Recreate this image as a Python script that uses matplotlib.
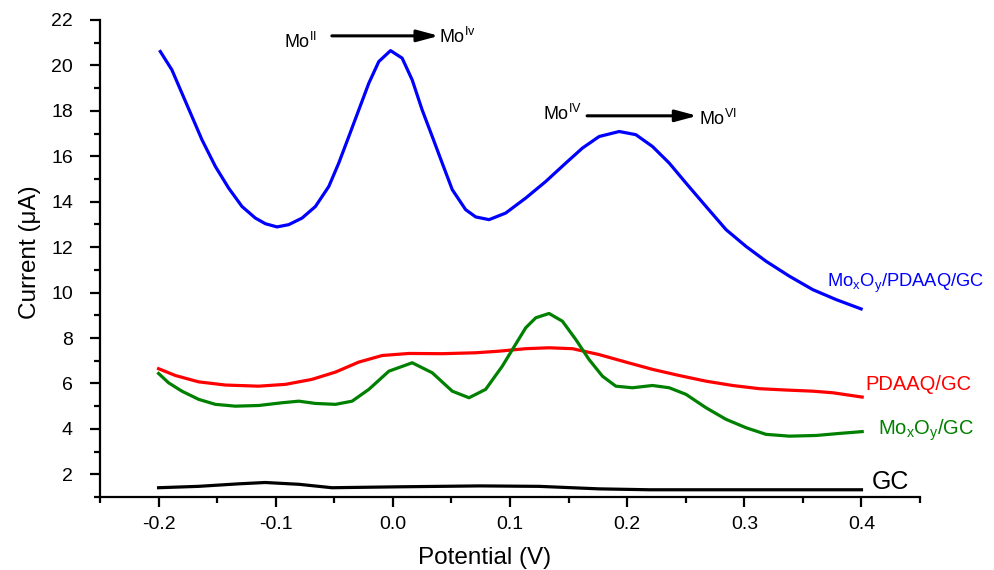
import matplotlib
matplotlib.use("Agg")
from matplotlib import pyplot as plt
from matplotlib.ticker import MultipleLocator

plt.rcParams["font.family"] = ["Liberation Sans", "DejaVu Sans"]
plt.rcParams["mathtext.fontset"] = "custom"
plt.rcParams["mathtext.rm"] = "Liberation Sans"
plt.rcParams["mathtext.it"] = "Liberation Sans"

# Mo_xO_y/PDAAQ/GC
x_blue = [-0.1985, -0.1886, -0.1801, -0.1715, -0.1630, -0.1515, -0.1402, -0.1288, -0.1174, -0.1088,
          -0.0989, -0.0889, -0.0775, -0.0661, -0.0547, -0.0462, -0.0376, -0.0291, -0.0205, -0.0120,
          -0.0020, 0.0079, 0.0165, 0.0250, 0.0336, 0.0421, 0.0507, 0.0621, 0.0707, 0.0821,
          0.0963, 0.1134, 0.1305, 0.1476, 0.1618, 0.1761, 0.1932, 0.2074, 0.2216, 0.2359,
          0.2502, 0.2673, 0.2844, 0.3015, 0.3185, 0.3385, 0.3584, 0.3784, 0.3997]
y_blue = [20.61, 19.80, 18.78, 17.75, 16.73, 15.55, 14.60, 13.79, 13.28, 13.03,
          12.89, 12.99, 13.28, 13.79, 14.67, 15.70, 16.87, 18.04, 19.22, 20.17,
          20.65, 20.32, 19.36, 18.04, 16.87, 15.70, 14.53, 13.65, 13.33, 13.21,
          13.50, 14.16, 14.89, 15.70, 16.36, 16.87, 17.09, 16.95, 16.43, 15.70,
          14.82, 13.79, 12.77, 12.03, 11.38, 10.72, 10.13, 9.69, 9.28]

# PDAAQ/GC
x_red = [-0.2000, -0.1857, -0.1658, -0.1430, -0.1145, -0.0917, -0.0690, -0.0490, -0.0291, -0.0091,
         0.0137, 0.0421, 0.0707, 0.0906, 0.1134, 0.1333, 0.1533, 0.1761, 0.1989, 0.2216,
         0.2444, 0.2673, 0.2900, 0.3128, 0.3356, 0.3584, 0.3755, 0.4006]
y_red = [6.65, 6.35, 6.07, 5.93, 5.88, 5.96, 6.18, 6.50, 6.94, 7.23,
         7.32, 7.31, 7.35, 7.42, 7.53, 7.57, 7.53, 7.27, 6.94, 6.62,
         6.35, 6.10, 5.91, 5.77, 5.71, 5.66, 5.59, 5.40]

# Mo_xO_y/GC
x_green = [-0.2000, -0.1915, -0.1801, -0.1658, -0.1515, -0.1344, -0.1145, -0.0946, -0.0803, -0.0661,
           -0.0490, -0.0348, -0.0205, -0.0034, 0.0165, 0.0336, 0.0507, 0.0650, 0.0792, 0.0934,
           0.1020, 0.1134, 0.1220, 0.1333, 0.1447, 0.1562, 0.1675, 0.1789, 0.1903, 0.2045,
           0.2216, 0.2359, 0.2502, 0.2673, 0.2844, 0.3015, 0.3185, 0.3385, 0.3613, 0.3812,
           0.4006]
y_green = [6.44, 6.03, 5.66, 5.30, 5.08, 5.00, 5.03, 5.15, 5.22, 5.12,
           5.08, 5.22, 5.74, 6.54, 6.91, 6.47, 5.66, 5.37, 5.74, 6.76,
           7.49, 8.45, 8.89, 9.08, 8.74, 7.93, 7.05, 6.32, 5.88, 5.81,
           5.91, 5.81, 5.52, 4.93, 4.42, 4.05, 3.76, 3.68, 3.71, 3.80,
           3.88]

# GC
x_black = [-0.200, -0.166, -0.132, -0.109, -0.080, -0.052, 0.005, 0.074, 0.125, 0.176, 0.219, 0.300, 0.400]
y_black = [1.41, 1.47, 1.58, 1.64, 1.56, 1.41, 1.45, 1.49, 1.47, 1.36, 1.32, 1.32, 1.32]

fig = plt.figure(figsize=(9.94, 5.70), dpi=100)
ax = fig.add_axes([0.1006, 0.128, 0.825, 0.837])

ax.plot(x_blue, y_blue, color="#0000ff", lw=2.3)
ax.plot(x_red, y_red, color="#ff0000", lw=2.3)
ax.plot(x_green, y_green, color="#008000", lw=2.3)
ax.plot(x_black, y_black, color="black", lw=2.3)

ax.set_xlim(-0.25, 0.45)
ax.set_ylim(1.0, 22)
ax.xaxis.set_minor_locator(MultipleLocator(0.05))
ax.yaxis.set_minor_locator(MultipleLocator(1))
ax.set_xticks([-0.2, -0.1, 0.0, 0.1, 0.2, 0.3, 0.4])
ax.set_xticklabels(["-0.2", "-0.1", "0.0", "0.1", "0.2", "0.3", "0.4"])
ax.set_yticks(range(2, 23, 2))

for side in ("top", "right"):
    ax.spines[side].set_visible(False)
for side in ("left", "bottom"):
    ax.spines[side].set_linewidth(1.6)
ax.tick_params(which="major", direction="out", length=7.5, width=1.6, labelsize=14)
ax.tick_params(which="minor", direction="out", length=4, width=1.6)
ax.tick_params(axis="x", which="major", pad=6)
ax.tick_params(axis="y", which="major", pad=12)

ax.set_xlabel("Potential (V)", fontsize=17.5)
ax.xaxis.set_label_coords(0.4695, -0.105)
ax.set_ylabel("Current (μA)", fontsize=17.5)
ax.yaxis.set_label_coords(-0.072, 0.514)

# curve labels
ax.text(0.371, 10.25, r"Mo$_\mathrm{x}$O$_\mathrm{y}$/PDAAQ/GC", color="#0000ff", fontsize=13.2, va="baseline")
ax.text(0.4034, 5.69, "PDAAQ/GC", color="#ff0000", fontsize=14.5, va="baseline")
ax.text(0.4137, 3.76, r"Mo$_\mathrm{x}$O$_\mathrm{y}$/GC", color="#008000", fontsize=14.5, va="baseline")
ax.text(0.409, 1.34, "GC", color="black", fontsize=18, va="baseline")

# oxidation-state arrows
arrow = dict(arrowstyle="-|>,head_length=1.3,head_width=0.35", color="black", lw=2.2, shrinkA=0, shrinkB=0)
ax.annotate("", xy=(0.0393, 21.30), xytext=(-0.0521, 21.30), arrowprops=arrow)
ax.text(-0.065, 20.77, r"Mo$^\mathrm{II}$", fontsize=13, ha="right", va="baseline")
ax.text(0.0393, 20.98, r"Mo$^\mathrm{Iv}$", fontsize=13, ha="left", va="baseline")
ax.annotate("", xy=(0.2598, 17.78), xytext=(0.1658, 17.78), arrowprops=arrow)
ax.text(0.128, 17.60, r"Mo$^\mathrm{IV}$", fontsize=13, ha="left", va="baseline")
ax.text(0.2615, 17.38, r"Mo$^\mathrm{VI}$", fontsize=13, ha="left", va="baseline")

fig.savefig("out.png", dpi=100)
